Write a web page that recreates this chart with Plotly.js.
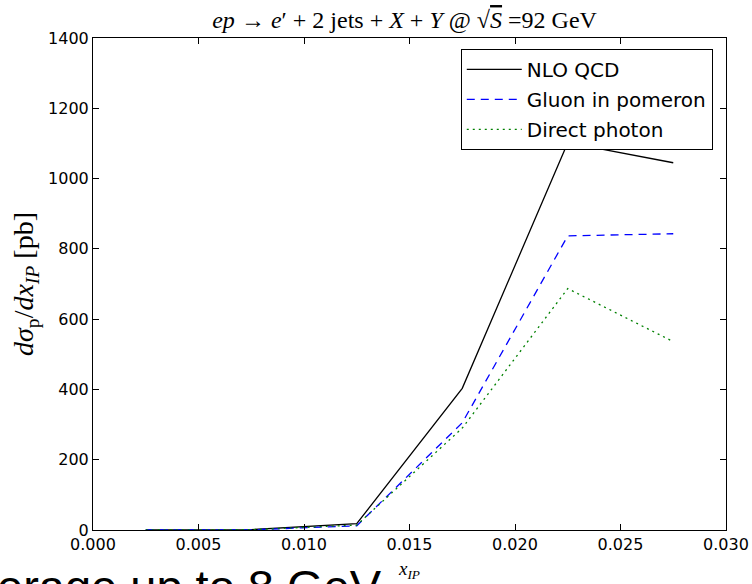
<!DOCTYPE html>
<html>
<head>
<meta charset="utf-8">
<script src="https://cdn.plot.ly/plotly-3.0.1.min.js"></script>
<style>html,body{margin:0;padding:0;background:#fff;}#chart{width:752px;height:584px;}</style>
</head>
<body>
<div id="chart"></div>
<script>
const xIP = [0.0025, 0.0075, 0.0125, 0.0175, 0.0225, 0.0275];
const nloQCD = [0.3, 1, 18, 403, 1102, 1045];
const gluonInPomeron = [0.2, 0.5, 12, 305, 837, 843];
const directPhoton = [0.2, 0.8, 14, 290, 687, 536];
const seriesNames = ["NLO QCD", "Gluon in pomeron", "Direct photon"];
const xTickVals = [0, 0.005, 0.010, 0.015, 0.020, 0.025, 0.030];
const yTickVals = [0, 200, 400, 600, 800, 1000, 1200, 1400];

const traces = [
  {x: xIP, y: nloQCD, name: seriesNames[0], mode: "lines", legendgroup: "a",
   line: {color: "#000000", width: 1.3, dash: "solid"}},
  {x: xIP, y: gluonInPomeron, name: seriesNames[1], mode: "lines", legendgroup: "b",
   line: {color: "#0000ff", width: 1.3, dash: "8px,6px"}},
  {x: xIP, y: directPhoton, name: seriesNames[2], mode: "lines", legendgroup: "c",
   line: {color: "#008000", width: 1.3, dash: "2px,4px"}}
];

const serif = "Liberation Serif, DejaVu Serif, serif";
const sans = "DejaVu Sans, sans-serif";

const layout = {
  width: 752, height: 584,
  margin: {l: 93, r: 26, t: 38, b: 54},
  paper_bgcolor: "#ffffff", plot_bgcolor: "#ffffff",
  showlegend: true,
  title: {
    text: "<i>ep</i> → <i>e</i>′ + 2 jets + <i>X</i> + <i>Y</i> @ √<span style='text-decoration:overline'><i>S</i></span> =92 GeV",
    font: {family: serif, size: 24, color: "#000"},
    x: 0.538, xanchor: "center", y: 0.952, yanchor: "bottom"
  },
  xaxis: {
    range: [0, 0.03], tickvals: xTickVals, tickformat: ".3f",
    ticks: "inside", ticklen: 6, tickcolor: "#000", mirror: "ticks",
    showline: true, linecolor: "#000", linewidth: 1, showgrid: false, zeroline: false,
    tickfont: {family: sans, size: 16, color: "#000"},
    title: {text: "<i>x</i><sub><i>IP</i></sub>", font: {family: serif, size: 19, color: "#000"}, standoff: 8}
  },
  yaxis: {
    range: [0, 1400], tickvals: yTickVals,
    ticks: "inside", ticklen: 6, tickcolor: "#000", mirror: "ticks",
    showline: true, linecolor: "#000", linewidth: 1, showgrid: false, zeroline: false,
    tickfont: {family: sans, size: 16, color: "#000"},
    title: {text: "<i>dσ</i><sub>p</sub>/<i>dx</i><sub><i>IP</i></sub> [pb]", font: {family: serif, size: 28, color: "#000"}, standoff: 6}
  },
  legend: {
    x: 0.581, y: 0.978, xanchor: "left", yanchor: "top",
    bgcolor: "#ffffff", bordercolor: "#000", borderwidth: 1,
    font: {family: sans, size: 20, color: "#000"},
    tracegroupgap: 1, itemwidth: 55
  },
  annotations: [
    {text: "erage up to 8 GeV", xref: "paper", yref: "paper", x: -0.1548, y: -0.0569,
     xanchor: "left", yanchor: "top", showarrow: false,
     font: {family: "Liberation Sans, Arial, sans-serif", size: 47, color: "#000"}}
  ]
};

Plotly.newPlot("chart", traces, layout, {displayModeBar: false, staticPlot: true});
</script>
</body>
</html>
